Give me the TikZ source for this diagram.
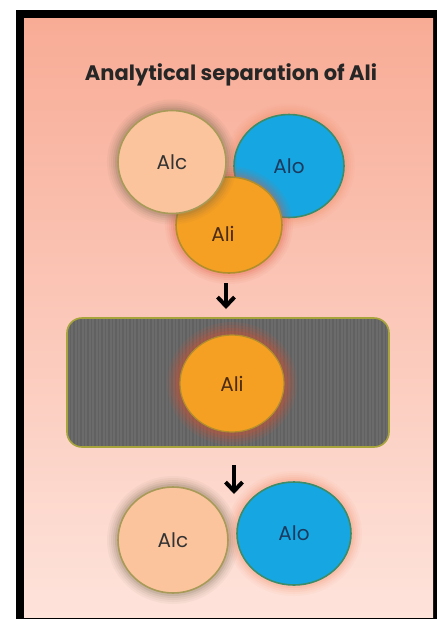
\documentclass[tikz,border=0pt]{standalone}
\usepackage{fontspec}
\setmainfont{Poppins}
\usetikzlibrary{shapes.geometric,arrows.meta}
\definecolor{bgtop}{HTML}{F8AC96}
\definecolor{bgmid}{HTML}{FCC8B9}
\definecolor{bgbot}{HTML}{FEE3DB}
\definecolor{alcfill}{HTML}{FBC49C}
\definecolor{alcline}{HTML}{A89A58}
\definecolor{alcglow}{HTML}{6E6448}
\definecolor{alofill}{HTML}{16A7E2}
\definecolor{aloline}{HTML}{3C8C6A}
\definecolor{aloglow}{HTML}{F28A62}
\definecolor{alotext}{HTML}{1B3A5E}
\definecolor{alifill}{HTML}{F6A023}
\definecolor{aliline}{HTML}{B08E2E}
\definecolor{aliglow}{HTML}{E4583E}
\definecolor{alitext}{HTML}{4A2A12}
\definecolor{boxfill}{HTML}{6B6B6B}
\definecolor{boxstripe}{HTML}{616161}
\definecolor{boxline}{HTML}{A6A43A}
\definecolor{ali2glow}{HTML}{C0553A}
\tikzset{
  glow/.style={preaction={draw=#1, line width=22pt, draw opacity=0.05},
               preaction={draw=#1, line width=18pt, draw opacity=0.06},
               preaction={draw=#1, line width=14pt, draw opacity=0.08},
               preaction={draw=#1, line width=10pt, draw opacity=0.10},
               preaction={draw=#1, line width=6pt, draw opacity=0.14}},
  strongglow/.style={preaction={draw=#1, line width=26pt, draw opacity=0.12},
               preaction={draw=#1, line width=20pt, draw opacity=0.16},
               preaction={draw=#1, line width=14pt, draw opacity=0.22},
               preaction={draw=#1, line width=8pt, draw opacity=0.3}},
  blob/.style={ellipse, inner sep=0pt, line width=1.6pt,
               font=\fontsize{20}{24}\selectfont},
  alcnode/.style={blob, fill=alcfill, draw=alcline, glow=alcglow, text=black!80},
  alonode/.style={blob, fill=alofill, draw=aloline, glow=aloglow, text=alotext},
  alinode/.style={blob, fill=alifill, draw=aliline, glow=aliglow, text=alitext},
  flow/.style={line width=4pt, -{Straight Barb[length=9pt,width=17pt]}},
}
\begin{document}
\begin{tikzpicture}[x=1pt,y=-1pt]
\useasboundingbox (0,0) rectangle (437,619);
\fill[white] (0,0) rectangle (437,619);
\fill[black] (16,10) rectangle (437,619);
\fill[top color=bgtop, middle color=bgmid, bottom color=bgbot] (24,18) rectangle (433,617);

\node[font=\bfseries\fontsize{21}{25}\selectfont, text=black!85, anchor=base] (title) at (231,80) {Analytical separation of Ali};

% top group
\node[alonode, minimum width=110pt, minimum height=103pt] (alo1) at (289,166) {Alo};
\node[alinode, minimum width=106pt, minimum height=96pt, label={[text=alitext,font=\fontsize{20}{24}\selectfont,xshift=-6pt,yshift=-9pt]center:Ali}] (ali1) at (229,225) {};
\node[alcnode, minimum width=108pt, minimum height=103pt] (alc1) at (172,162) {Alc};

\coordinate (a1s) at (226,283);
\coordinate (a1e) at (226,309);
\draw[flow] (a1s) -- (a1e);

% filter box
\node[rectangle, rounded corners=15pt, minimum width=322pt, minimum height=129pt,
      fill=boxfill, draw=boxline, line width=1.6pt,
      path picture={\foreach \i in {0,3.5,...,330}{\draw[boxstripe, line width=1.2pt] ([xshift=\i pt]path picture bounding box.south west) -- ([xshift=\i pt]path picture bounding box.north west);}}] (box) at (228,382.5) {};
\node[blob, fill=alifill, draw=aliline, line width=1.2pt, text=alitext,
      strongglow=ali2glow, minimum width=104pt, minimum height=97pt] (ali2) at (232,383.5) {Ali};

\coordinate (a2s) at (234,465);
\coordinate (a2e) at (234,494);
\draw[flow] (a2s) -- (a2e);

% bottom group
\node[alcnode, minimum width=110pt, minimum height=106pt] (alc2) at (173,540) {Alc};
\node[alonode, minimum width=114pt, minimum height=103pt] (alo2) at (294,533.5) {Alo};
\end{tikzpicture}
\end{document}
